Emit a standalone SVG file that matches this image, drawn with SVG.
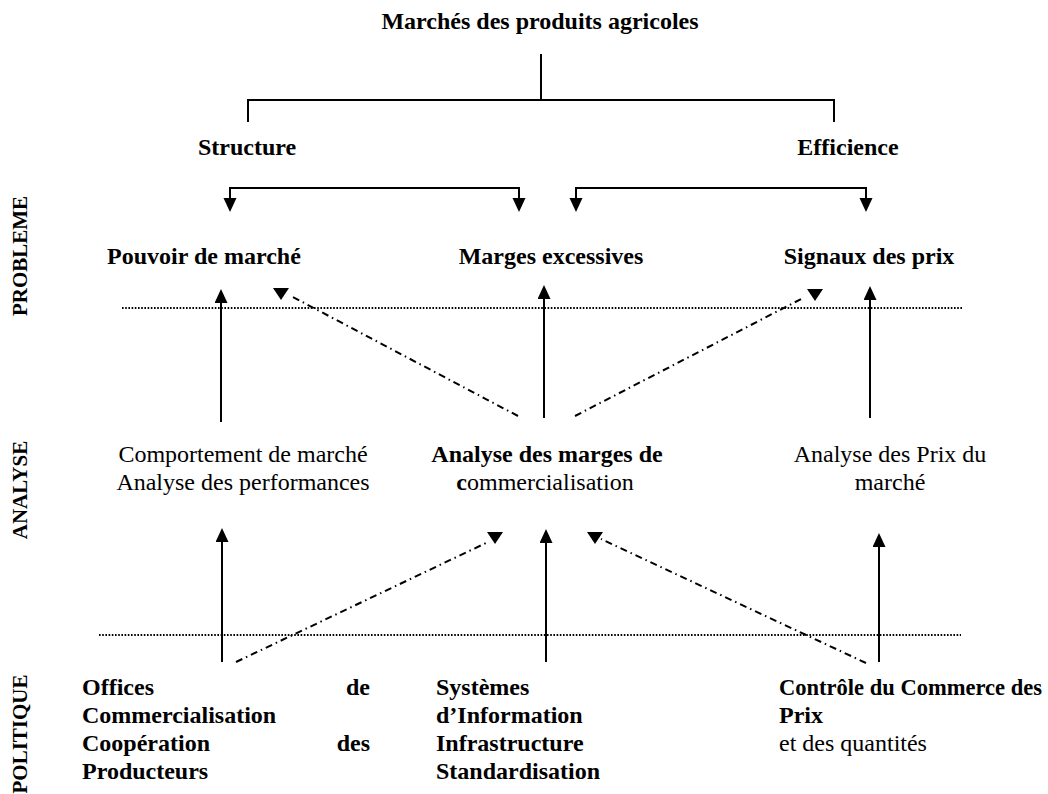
<svg xmlns="http://www.w3.org/2000/svg" width="1048" height="794" viewBox="0 0 1048 794">
<style>
text { font-family: "Liberation Serif", "Times New Roman", serif; font-size: 24px; fill: #000; }
.b { font-weight: bold; }
.side { font-weight: bold; font-size: 21px; }
.solid { stroke: #000; stroke-width: 2; fill: none; }
.dot { stroke: #000; stroke-width: 1.8; stroke-dasharray: 1.6 1.6; fill: none; }
.dd { stroke: #000; stroke-width: 2; stroke-dasharray: 7 4 1.5 4; fill: none; }
.tri { fill: #000; }
</style>
<defs>
<marker id="ah" markerUnits="userSpaceOnUse" markerWidth="16" markerHeight="14" refX="12" refY="6.5" orient="auto-start-reverse">
<path d="M0,0 L14,6.5 L0,13 z" fill="#000"/>
</marker>
<path id="dtri" d="M-8,0 L8,0 L0,12 z"/>
</defs>

<g id="title"><text class="b" x="540" y="29" text-anchor="middle">Marchés des produits agricoles</text></g>
<g id="structure"><text class="b" x="247" y="155" text-anchor="middle">Structure</text></g>
<g id="efficience"><text class="b" x="848" y="155" text-anchor="middle">Efficience</text></g>
<g id="pouvoir"><text class="b" x="204" y="264" text-anchor="middle">Pouvoir de marché</text></g>
<g id="marges"><text class="b" x="551" y="264" text-anchor="middle">Marges excessives</text></g>
<g id="signaux"><text class="b" x="869" y="264" text-anchor="middle">Signaux des prix</text></g>

<g id="comportement">
<text x="243" y="462" text-anchor="middle">Comportement de marché</text>
<text x="243" y="490" text-anchor="middle">Analyse des performances</text>
</g>
<g id="analyse-marges">
<text class="b" x="547" y="462" text-anchor="middle">Analyse des marges de</text>
<text x="545" y="490" text-anchor="middle"><tspan class="b">c</tspan>ommercialisation</text>
</g>
<g id="analyse-prix">
<text x="890" y="462" text-anchor="middle">Analyse des Prix du</text>
<text x="890" y="490" text-anchor="middle">marché</text>
</g>

<g id="offices">
<text class="b" y="695"><tspan x="82">Offices</tspan><tspan x="370" text-anchor="end">de</tspan></text>
<text class="b" x="82" y="723">Commercialisation</text>
<text class="b" y="751"><tspan x="82">Coopération</tspan><tspan x="370" text-anchor="end">des</tspan></text>
<text class="b" x="82" y="779">Producteurs</text>
</g>
<g id="systemes">
<text class="b" x="436" y="695">Systèmes</text>
<text class="b" x="436" y="723">d’Information</text>
<text class="b" x="436" y="751">Infrastructure</text>
<text class="b" x="436" y="779">Standardisation</text>
</g>
<g id="controle">
<text class="b" x="779" y="695" textLength="263" lengthAdjust="spacingAndGlyphs">Contrôle du Commerce des</text>
<text class="b" x="779" y="723">Prix</text>
<text x="779" y="751">et des quantités</text>
</g>

<g id="side-labels">
<text class="side" transform="translate(27,256) rotate(-90)" text-anchor="middle">PROBLEME</text>
<text class="side" transform="translate(27,490) rotate(-90)" text-anchor="middle">ANALYSE</text>
<text class="side" transform="translate(27,734) rotate(-90)" text-anchor="middle">POLITIQUE</text>
</g>

<g id="connectors">
<path class="solid" d="M541,54 V100"/>
<path class="solid" d="M248,122 V100 H834 V122"/>
<path class="solid" d="M230,210 V188 H519 V210" marker-start="url(#ah)" marker-end="url(#ah)"/>
<path class="solid" d="M576,210 V188 H866 V210" marker-start="url(#ah)" marker-end="url(#ah)"/>

<line class="dot" x1="122" y1="308" x2="963" y2="308"/>
<line class="dot" x1="99" y1="635" x2="961" y2="635"/>

<line class="solid" x1="221" y1="422" x2="221" y2="291" marker-end="url(#ah)"/>
<line class="solid" x1="544" y1="418" x2="544" y2="287" marker-end="url(#ah)"/>
<line class="solid" x1="870" y1="418" x2="870" y2="288" marker-end="url(#ah)"/>

<line class="solid" x1="222" y1="662" x2="222" y2="530" marker-end="url(#ah)"/>
<line class="solid" x1="546" y1="662" x2="546" y2="531" marker-end="url(#ah)"/>
<line class="solid" x1="879" y1="662" x2="879" y2="535" marker-end="url(#ah)"/>

<line class="dd" x1="518" y1="416" x2="291" y2="296"/>
<use href="#dtri" class="tri" x="281" y="288"/>
<line class="dd" x1="575" y1="416" x2="803" y2="298"/>
<use href="#dtri" class="tri" x="815" y="289"/>

<line class="dd" x1="236" y1="662" x2="486" y2="543"/>
<use href="#dtri" class="tri" x="495" y="532"/>
<line class="dd" x1="866" y1="663" x2="601" y2="539"/>
<use href="#dtri" class="tri" x="595" y="532"/>
</g>
</svg>
